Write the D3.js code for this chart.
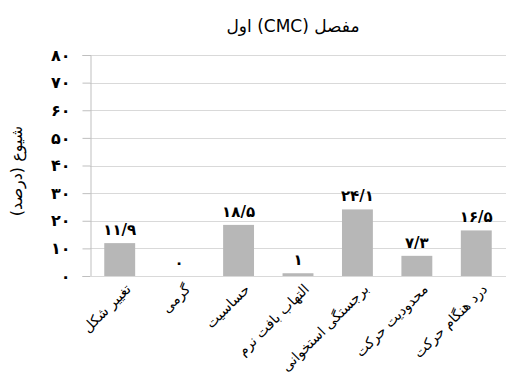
<!DOCTYPE html>
<html><head><meta charset="utf-8">
<script src="https://cdn.jsdelivr.net/npm/d3@7"></script>
<style>
html,body{margin:0;padding:0;background:#fff;}
text{font-family:"Liberation Serif","DejaVu Sans",serif;}
</style></head>
<body><svg id="c" width="516" height="376"></svg>
<script>
const categories = ["تغییر شکل","گرمی","حساسیت","التهاب بافت نرم","برجستگی استخوانی","محدودیت حرکت","درد هنگام حرکت"];
const values = [11.9, 0, 18.5, 1, 24.1, 7.3, 16.5];
const valueLabels = ["۱۱/۹","۰","۱۸/۵","۱","۲۴/۱","۷/۳","۱۶/۵"];
const yTicks = [0,10,20,30,40,50,60,70,80];
const yTickLabels = ["۰","۱۰","۲۰","۳۰","۴۰","۵۰","۶۰","۷۰","۸۰"];
const title = "مفصل (CMC) اول";
const yTitle = "شیوع (درصد)";

const svg = d3.select("#c");
const x = d3.scaleBand().domain(categories).range([90, 506]).paddingInner(0.48).paddingOuter(0.24);
const y = d3.scaleLinear().domain([0, 80]).range([276, 55]);

// gridlines
svg.append("g").selectAll("line").data(yTicks).join("line")
  .attr("x1", 90).attr("x2", 506)
  .attr("y1", d => Math.round(y(d)) + 0.5).attr("y2", d => Math.round(y(d)) + 0.5)
  .attr("stroke", "#d9d9d9").attr("stroke-width", 1);

// y axis
const yAxis = d3.axisLeft(y).tickValues(yTicks).tickSize(8).tickFormat((d, i) => yTickLabels[i]);
const ga = svg.append("g").attr("transform", "translate(90.5,0)").call(yAxis);
ga.select(".domain").attr("stroke", "#bfbfbf");
ga.selectAll(".tick line").attr("stroke", "#bfbfbf");
ga.selectAll(".tick text").attr("x", -20).attr("fill", "#000")
  .style("font-family", '"DejaVu Sans",sans-serif').style("font-size", "16px").style("font-weight", "bold");

// bars
svg.append("g").selectAll("rect").data(values).join("rect")
  .attr("x", (d, i) => x(categories[i]))
  .attr("width", x.bandwidth())
  .attr("y", d => y(d))
  .attr("height", d => y(0) - y(d))
  .attr("fill", "#b7b7b7");

// baseline
svg.append("line").attr("x1", 90).attr("x2", 506).attr("y1", 276.5).attr("y2", 276.5).attr("stroke", "#d9d9d9");

// value labels
svg.append("g").selectAll("text").data(values).join("text")
  .attr("x", (d, i) => x(categories[i]) + x.bandwidth() / 2)
  .attr("y", d => y(d) - 8)
  .attr("text-anchor", "middle")
  .style("font-family", '"DejaVu Sans",sans-serif').style("font-size", "15px").style("font-weight", "bold")
  .text((d, i) => valueLabels[i]);

// x labels
svg.append("g").selectAll("text").data(categories).join("text")
  .attr("transform", d => `translate(${x(d) + x.bandwidth() / 2 + 12},${290}) rotate(-45)`)
  .attr("text-anchor", "end")
  .style("font-family", '"DejaVu Sans",sans-serif').style("font-size", "14px")
  .text(d => d);

// title
svg.append("text").attr("x", 293).attr("y", 32).attr("text-anchor", "middle")
  .style("direction", "rtl").style("unicode-bidi", "embed")
  .style("font-family", '"DejaVu Sans",sans-serif').style("font-size", "17px")
  .text(title);

// y title
svg.append("text").attr("transform", "translate(22,171) rotate(-90)").attr("text-anchor", "middle")
  .style("direction", "rtl").style("unicode-bidi", "embed")
  .style("font-family", '"DejaVu Sans",sans-serif').style("font-size", "16px")
  .text(yTitle);
</script></body></html>
